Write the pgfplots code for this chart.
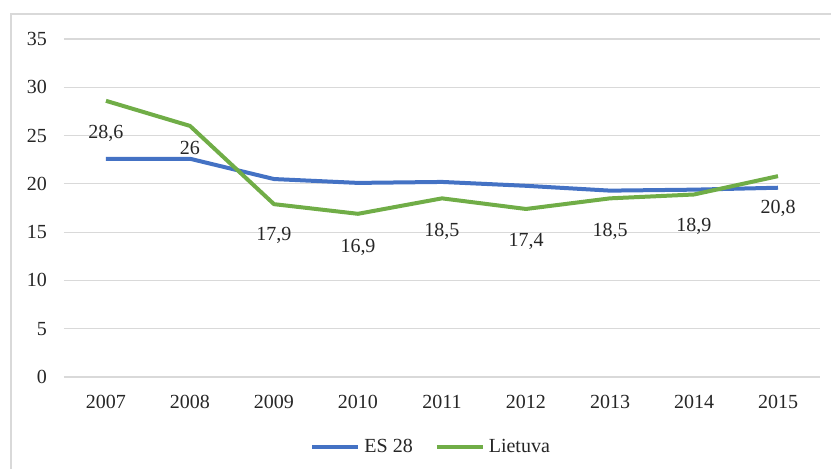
\documentclass[border=0pt]{standalone}
\usepackage{pgfplots}
\pgfplotsset{compat=1.18}
\usepackage{pgfplotstable}
\usepackage{fontspec}
\setmainfont{Liberation Serif}

\definecolor{esblue}{RGB}{68,114,196}
\definecolor{ltgreen}{RGB}{112,173,71}
\definecolor{gridgray}{RGB}{217,217,217}

% ES 28 average
\pgfplotstableread{
x es
0 22.6
1 22.6
2 20.5
3 20.1
4 20.2
5 19.8
6 19.3
7 19.4
8 19.6
}\esdata

% Lietuva, with data label and its vertical offset (pt)
\pgfplotstableread{
x lt label dy
0 28.6 28,6 -18.6
1 26.0 26 -14.4
2 17.9 17,9 -18.3
3 16.9 16,9 -19.2
4 18.5 18,5 -19.1
5 17.4 17,4 -18.9
6 18.5 18,5 -19.1
7 18.9 18,9 -18.6
8 20.8 20,8 -18.6
}\ltdata

\begin{document}
\begin{tikzpicture}
\useasboundingbox (0,0) rectangle (415.5pt,-234pt);
\clip (0,0) rectangle (415.5pt,-234pt);
\draw[gridgray, line width=0.8pt] (5.5pt,-7pt) rectangle (430pt,-250pt);

\begin{axis}[
    at={(32pt,-188.5pt)}, anchor=south west,
    width=378pt, height=169pt, scale only axis,
    xmin=-0.5, xmax=8.5, ymin=0, ymax=35,
    xtick={0,1,2,3,4,5,6,7,8},
    xticklabels={2007,2008,2009,2010,2011,2012,2013,2014,2015},
    ytick={0,5,10,15,20,25,30,35},
    ymajorgrids,
    major grid style={gridgray, line width=0.6pt},
    axis line style={draw=none},
    tick style={draw=none},
    tick label style={font=\fontsize{10}{12}\selectfont, text=black!85},
    xticklabel style={yshift=-5.5pt},
    yticklabel style={xshift=-5pt},
    /pgf/number format/assume math mode=true,
    legend columns=2,
    legend style={draw=none, at={(0.487,-0.207)}, anchor=center,
        font=\fontsize{10}{12}\selectfont, text=black!85,
        /tikz/every even column/.append style={column sep=9pt}},
    legend image code/.code={\draw[#1] (0pt,0pt) -- (23pt,0pt);},
]

\addplot[esblue, line width=2pt, line join=round, mark=none]
    table[x=x, y=es] {\esdata};
\addlegendentry{ES 28}

\addplot[ltgreen, line width=2pt, line join=round, mark=none,
    nodes near coords, point meta=explicit symbolic,
    visualization depends on={\thisrow{dy}\as\dy},
    every node near coord/.append style={anchor=base, yshift=\dy pt,
        text=black!85, font=\fontsize{10}{12}\selectfont}]
    table[x=x, y=lt, meta=label] {\ltdata};
\addlegendentry{Lietuva}

\end{axis}
\end{tikzpicture}
\end{document}
